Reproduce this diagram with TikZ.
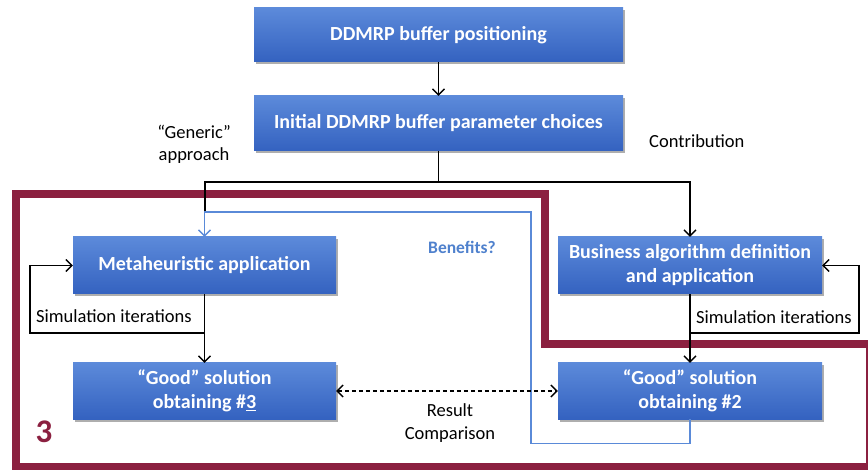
\documentclass[tikz,border=0pt]{standalone}
\usepackage{fontspec}
\setmainfont{Carlito}
\usetikzlibrary{arrows.meta,shadows}
\definecolor{boxtop}{HTML}{5C8ADA}
\definecolor{boxbot}{HTML}{3462C0}
\definecolor{framered}{HTML}{8B2040}
\definecolor{bline}{HTML}{5A8AD8}
\definecolor{btext}{HTML}{4F81CD}
\tikzset{
  box/.style={rectangle, top color=boxtop, bottom color=boxbot, draw=none,
    text=white, font=\bfseries\fontsize{20}{24}\selectfont, align=center,
    inner sep=2pt,
    drop shadow={shadow xshift=2pt, shadow yshift=-2.5pt, opacity=0.45, fill=black!70}},
  conn/.style={line width=1.3pt, black},
  tip/.style={-{Straight Barb[length=6pt,width=12pt,line width=1.3pt]}},
  arr/.style={conn, tip},
  lbl/.style={font=\fontsize{18.5}{22}\selectfont, align=center, inner sep=1pt},
}
\begin{document}
\begin{tikzpicture}[x=1pt,y=-1pt]
\useasboundingbox (0,0) rectangle (868,470);
% frame
\draw[framered, line width=7.5pt, line join=miter]
  (16,194) -- (545,194) -- (545,344) -- (870,344) -- (870,467) -- (16,467) -- cycle;
% boxes
\node[box, minimum width=369pt, minimum height=54pt] (top) at (438.5,35) {DDMRP buffer positioning};
\node[box, minimum width=369pt, minimum height=55pt] (init) at (438.5,123.5) {Initial DDMRP buffer parameter choices};
\node[box, minimum width=263pt, minimum height=57pt] (meta) at (204.5,265.5) {Metaheuristic application};
\node[box, minimum width=263pt, minimum height=56pt] (good3) at (204.5,391) {\textquotedblleft Good\textquotedblright\ solution\\obtaining \#\underline{3}};
\node[box, minimum width=264pt, minimum height=57pt] (bus) at (690,265.5) {Business algorithm definition\\and application};
\node[box, minimum width=264pt, minimum height=56pt] (good2) at (690,391) {\textquotedblleft Good\textquotedblright\ solution\\obtaining \#2};
% labels
\node[lbl] (gen) at (194,144) {\textquotedblleft Generic\textquotedblright\\approach};
\node[lbl, anchor=west] (contr) at (648,141) {Contribution};
\node[lbl, font=\bfseries\fontsize{17.5}{21}\selectfont, text=btext] (ben) at (462,247) {Benefits?};
\node[lbl, anchor=west] (sim1) at (35,316) {Simulation iterations};
\node[lbl, anchor=west] (sim2) at (695,317) {Simulation iterations};
\node[lbl, font=\fontsize{18.5}{23}\selectfont] (res) at (450,423) {Result\\Comparison};
\node[text=framered, font=\bfseries\fontsize{33}{36}\selectfont, inner sep=0pt] (three) at (44,432) {3};
% connectors
\coordinate (j) at (438.5,182);
\coordinate (jl) at (205,182);
\coordinate (bl) at (205,212);
\draw[arr] (top) -- (init);
\draw[conn] (init.south) -- (j) -- (jl) -- (bl);
\draw[arr] (j) -| (bus.north);
\draw[line width=1.3pt, bline, tip]
  (good2.south) -- ++(0,24) -| (531,212) -| (meta.north);
\draw[arr] (meta) -- (good3);
\coordinate (ml) at (204.5,333);
\draw[arr] (ml) -- (30,333) |- (meta.west);
\draw[arr] (bus) -- (good2);
\coordinate (mr) at (690,333);
\draw[arr] (mr) -- (859,333) |- (bus.east);
\draw[conn, dash pattern=on 4pt off 3pt,
  {Straight Barb[length=6pt,width=12pt,line width=1.3pt]}-{Straight Barb[length=6pt,width=12pt,line width=1.3pt]}]
  (good3.east) -- (good2.west);
\end{tikzpicture}
\end{document}
